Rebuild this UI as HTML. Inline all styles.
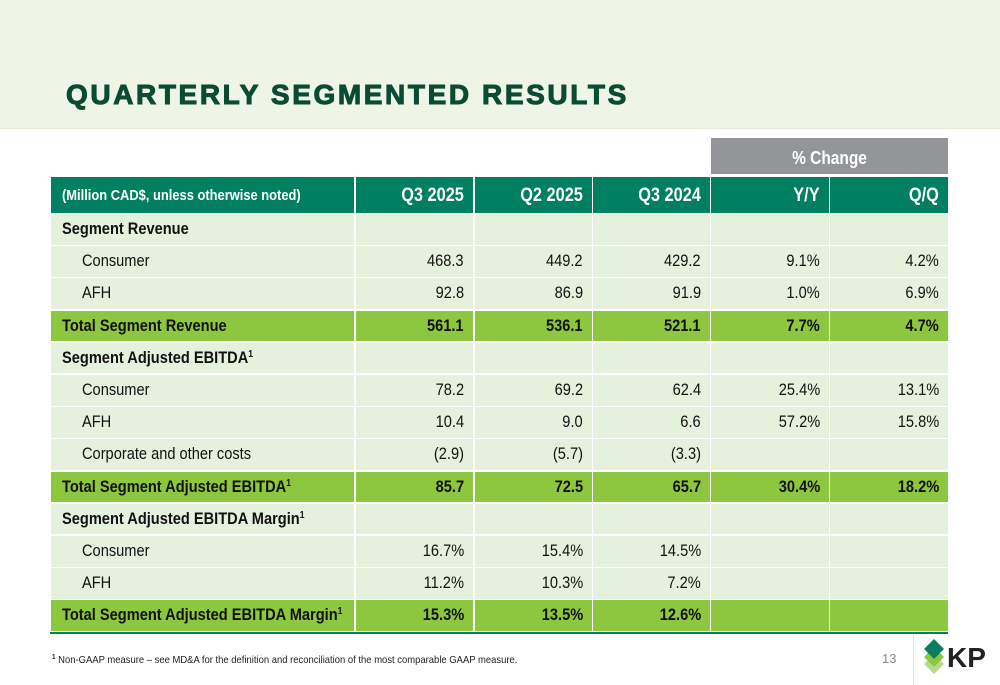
<!DOCTYPE html>
<html><head><meta charset="utf-8"><style>
body{margin:0;width:1000px;height:685px;overflow:hidden;background:#fff;font-family:"Liberation Sans",sans-serif;position:relative}
.band{position:absolute;left:0;top:0;width:1000px;height:128px;background:#eef5e6;border-bottom:1px solid #dfe8d4}
.title{position:absolute;left:66px;top:79px;font-size:28px;font-weight:bold;color:#0b4a33;letter-spacing:2.6px;-webkit-text-stroke:1px #0b4a33}
.c{position:absolute;box-sizing:border-box;font-size:16px;line-height:30px;color:#111;white-space:nowrap}
.c span{display:inline-block;transform:scaleX(0.86)}
.r{text-align:right;padding-right:9px}
.r span{transform-origin:right center}
.l{padding-left:11px}
.l span{transform-origin:left center}
sup{font-size:10px;line-height:0;vertical-align:6px}
</style></head><body>
<div class="band"></div>
<div class="title">QUARTERLY SEGMENTED RESULTS</div>
<div id="t"></div>
<div style="position:absolute;left:50px;top:632px;width:898px;height:2px;background:#0a7f5e"></div>
<div style="position:absolute;left:52px;top:654px;font-size:10.5px;color:#222;transform:scaleX(0.9);transform-origin:left"><sup style="font-size:7px;font-weight:bold;vertical-align:4px">1</sup> Non-GAAP measure – see MD&amp;A for the definition and reconciliation of the most comparable GAAP measure.</div>
<div style="position:absolute;left:882px;top:651px;font-size:13px;color:#888">13</div>
<div style="position:absolute;left:913px;top:635px;width:1px;height:50px;background:#dfe8d4"></div>
<svg style="position:absolute;left:922px;top:634px" width="78" height="50">
<polygon points="12,20 22,30 12,40 2,30" fill="#b6d98f"/>
<polygon points="12,13 22,23 12,33 2,23" fill="#8dc63f"/>
<polygon points="12,5 22,15 12,25 2,15" fill="#0a7f5e"/>
<text x="25" y="33" font-family="Liberation Sans" font-weight="bold" font-size="28" fill="#222">KP</text>
</svg>
<script>
const cols=[[51,303],[356,117],[475,117],[593,117],[711,118],[830,118]];
const rowLabels=["Segment Revenue","Consumer","AFH","Total Segment Revenue","Segment Adjusted EBITDA¹","Consumer","AFH","Corporate and other costs","Total Segment Adjusted EBITDA¹","Segment Adjusted EBITDA Margin¹","Consumer","AFH","Total Segment Adjusted EBITDA Margin¹"];
const q3_2025=["","468.3","92.8","561.1","","78.2","10.4","(2.9)","85.7","","16.7%","11.2%","15.3%"];
const q2_2025=["","449.2","86.9","536.1","","69.2","9.0","(5.7)","72.5","","15.4%","10.3%","13.5%"];
const q3_2024=["","429.2","91.9","521.1","","62.4","6.6","(3.3)","65.7","","14.5%","7.2%","12.6%"];
const yy=["","9.1%","1.0%","7.7%","","25.4%","57.2%","","30.4%","","","",""];
const qq=["","4.2%","6.9%","4.7%","","13.1%","15.8%","","18.2%","","","",""];
const kind=["h","i","i","t","h","i","i","i","t","h","i","i","t"];
const t=document.getElementById('t');
function cell(x,y,w,h,txt,cls,bg,css){const d=document.createElement('div');d.className='c '+cls;d.style.cssText=`left:${x}px;top:${y}px;width:${w}px;height:${h}px;background:${bg};`+(css||'');d.innerHTML='<span>'+txt+'</span>';t.appendChild(d);return d;}
let d=cell(711,138,237,36,'% Change','','#939598','color:#fff;font-weight:bold;font-size:18px;line-height:40px;text-align:center');


const heads=["(Million CAD$, unless otherwise noted)","Q3 2025","Q2 2025","Q3 2024","Y/Y","Q/Q"];
heads.forEach((h,i)=>{const e=cell(cols[i][0],177,cols[i][1],36,h,i?'r':'l','#008060','color:#fff;font-weight:bold;line-height:38px;'+(i?'font-size:19px':'font-size:15px'));

});
const vals=[q3_2025,q2_2025,q3_2024,yy,qq];
rowLabels.forEach((lab,r)=>{const y=214+r*32.2;const k=kind[r];const bg=k=='t'?'#8dc63f':'#e4f1dc';
const fw=k=='i'?'normal':'bold';
const e=cell(cols[0][0],y,cols[0][1],30.6,lab.replace('¹','<sup>1</sup>'),'l',bg,`font-weight:${fw};font-size:17px;`+(k=='i'?'padding-left:31px':''));


vals.forEach((v,i)=>{const c=cell(cols[i+1][0],y,cols[i+1][1],30.6,v[r],'r',bg,`font-weight:${fw};font-size:17px`);

});});
</script>
</body></html>
